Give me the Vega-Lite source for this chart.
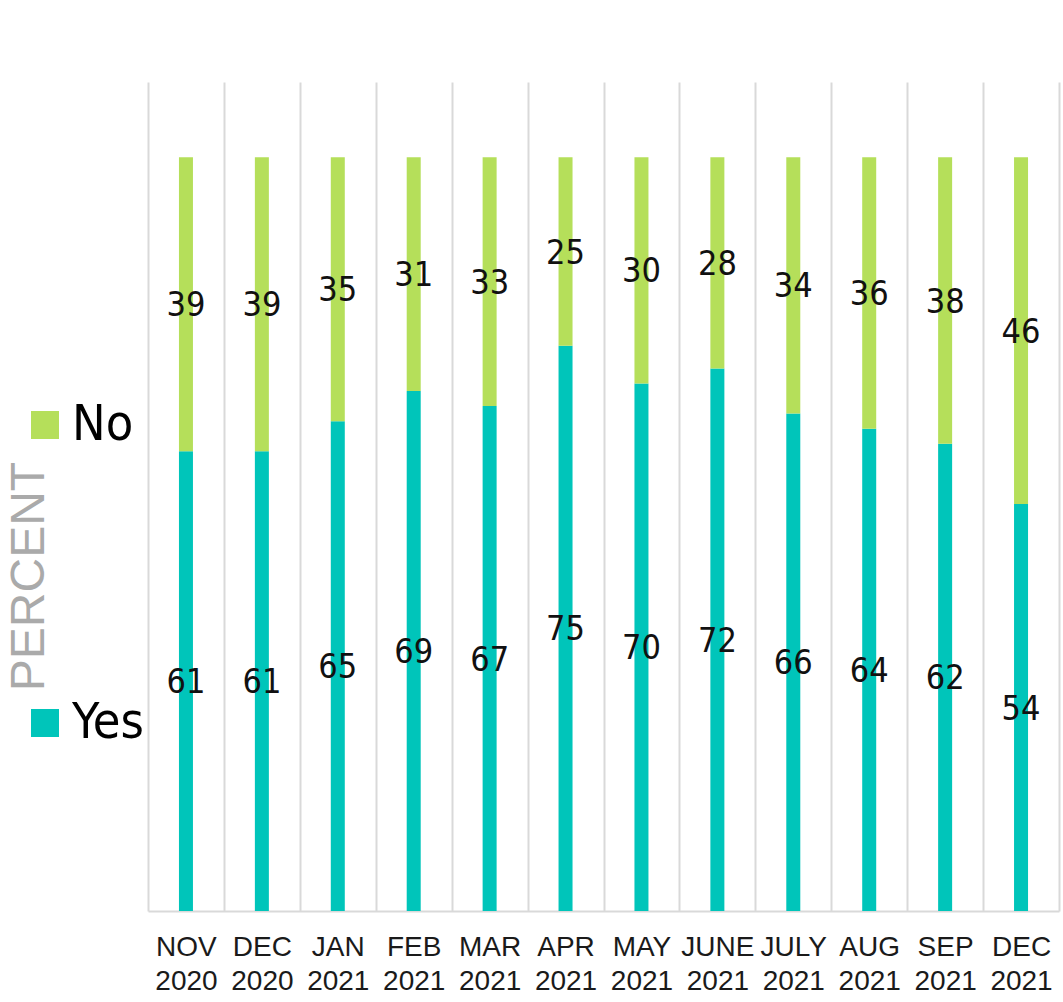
{
  "$schema": "https://vega.github.io/schema/vega-lite/v6.json",
  "width": 911,
  "height": 829,
  "autosize": {"type": "none"},
  "padding": {"left": 148, "top": 82, "right": 4, "bottom": 91},
  "background": "white",
  "config": {"view": {"stroke": null}},
  "data": {"values": [
    {"month": "NOV 2020", "answer": "Yes", "value": 61},
    {"month": "NOV 2020", "answer": "No", "value": 39},
    {"month": "DEC 2020", "answer": "Yes", "value": 61},
    {"month": "DEC 2020", "answer": "No", "value": 39},
    {"month": "JAN 2021", "answer": "Yes", "value": 65},
    {"month": "JAN 2021", "answer": "No", "value": 35},
    {"month": "FEB 2021", "answer": "Yes", "value": 69},
    {"month": "FEB 2021", "answer": "No", "value": 31},
    {"month": "MAR 2021", "answer": "Yes", "value": 67},
    {"month": "MAR 2021", "answer": "No", "value": 33},
    {"month": "APR 2021", "answer": "Yes", "value": 75},
    {"month": "APR 2021", "answer": "No", "value": 25},
    {"month": "MAY 2021", "answer": "Yes", "value": 70},
    {"month": "MAY 2021", "answer": "No", "value": 30},
    {"month": "JUNE 2021", "answer": "Yes", "value": 72},
    {"month": "JUNE 2021", "answer": "No", "value": 28},
    {"month": "JULY 2021", "answer": "Yes", "value": 66},
    {"month": "JULY 2021", "answer": "No", "value": 34},
    {"month": "AUG 2021", "answer": "Yes", "value": 64},
    {"month": "AUG 2021", "answer": "No", "value": 36},
    {"month": "SEP 2021", "answer": "Yes", "value": 62},
    {"month": "SEP 2021", "answer": "No", "value": 38},
    {"month": "DEC 2021", "answer": "Yes", "value": 54},
    {"month": "DEC 2021", "answer": "No", "value": 46}
  ]},
  "encoding": {
    "x": {
      "field": "month", "type": "nominal", "sort": null,
      "scale": {"paddingInner": 0, "paddingOuter": 0},
      "axis": {
        "title": null, "labelAngle": 0, "grid": true, "tickBand": "extent",
        "gridColor": "#d9d9d9", "gridWidth": 2, "ticks": false,
        "domainColor": "#d9d9d9", "domainWidth": 2,
        "labelExpr": "split(datum.label, ' ')",
        "labelFont": "Liberation Sans", "labelFontSize": 28, "labelColor": "#1a1a1a",
        "labelLineHeight": 34, "labelPadding": 22, "labelBaseline": "top"
      }
    },
    "y": {
      "field": "value", "type": "quantitative", "stack": "zero",
      "scale": {"domain": [0, 110], "nice": false},
      "axis": {
        "title": "PERCENT", "labels": false, "ticks": false, "grid": false, "domain": false,
        "titleFont": "Liberation Sans", "titleFontSize": 48, "titleFontWeight": "normal",
        "titleColor": "#aaaaaa", "titleAngle": -90, "titleAlign": "center",
        "titleBaseline": "alphabetic", "titleX": -105, "titleY": 494
      }
    },
    "order": {"field": "answer", "sort": "descending"}
  },
  "layer": [
    {
      "mark": {"type": "bar", "width": 14},
      "encoding": {
        "color": {
          "field": "answer", "type": "nominal",
          "scale": {"domain": ["No", "Yes"], "range": ["#b5df5a", "#00c5ba"]},
          "legend": {
            "title": null, "orient": "none", "legendX": -128, "legendY": 318,
            "direction": "vertical", "symbolType": "square", "symbolSize": 784,
            "symbolStrokeWidth": 0, "symbolOpacity": 1,
            "labelFont": "DejaVu Sans Condensed, Liberation Sans", "labelFontSize": 50, "labelColor": "#000000",
            "labelOffset": 2, "rowPadding": 248, "padding": 0
          }
        }
      }
    },
    {
      "mark": {"type": "text", "font": "DejaVu Sans Condensed, Liberation Sans", "fontSize": 34, "color": "#111111", "baseline": "middle", "dy": 2},
      "encoding": {
        "y": {"field": "value", "type": "quantitative", "stack": "zero", "bandPosition": 0.5},
        "text": {"field": "value", "type": "quantitative"}
      }
    }
  ]
}
